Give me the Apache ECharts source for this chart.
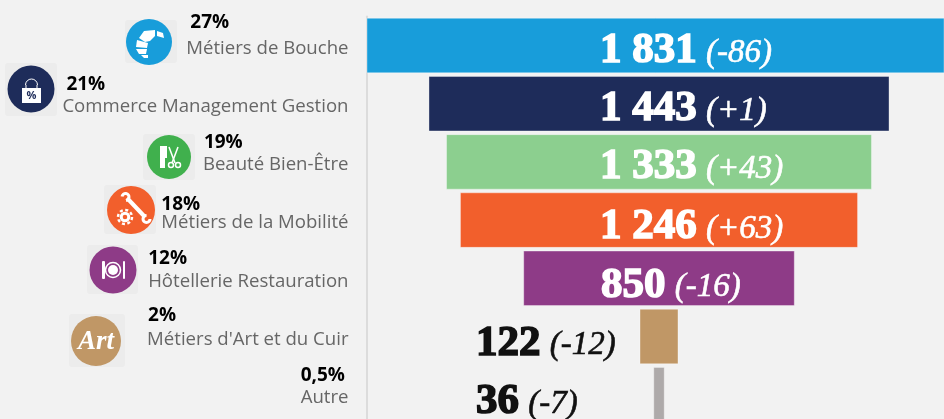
<!DOCTYPE html>
<html><head><meta charset="utf-8">
<style>html,body{margin:0;padding:0;background:#f2f2f2}#c{width:944px;height:419px}</style>
<script src="https://cdn.jsdelivr.net/npm/echarts@6/dist/echarts.min.js"></script>
</head><body><div id="c"></div>
<script>
const categories = ['Métiers de Bouche','Commerce Management Gestion','Beauté Bien-Être','Métiers de la Mobilité','Hôtellerie Restauration',"Métiers d'Art et du Cuir",'Autre'];
const values = [1831,1443,1333,1246,850,122,36];
const changes = ['-86','+1','+43','+63','-16','-12','-7'];
const shares = ['27%','21%','19%','18%','12%','2%','0,5%'];
const colors = ['#189dda','#1e2c5a','#8ccf8f','#f25f2c','#8e3b87','#c09766','#aeaaaa'];

const pxPerUnit = 0.3195, gridLeft = 366.5, gridW = 944 - gridLeft;
const axisMax = gridW / pxPerUnit, centre = 1831;
const toUnits = px => (px - gridLeft) / pxPerUnit;
const shareGap = [26,22,22,19,23,24,22];
const shareInset = [4,4,1,0,0,1,0];
const labelDrop = [5.5,5.5,5,7,7.5,7,7.5];
const rich = {n:{fontFamily:'Open Sans',fontSize:18.6,color:'#666',lineHeight:24,align:'right'}};
shareGap.forEach((g,i)=>{
  const lh = g*2-24;
  rich['p'+i] = {fontFamily:'Open Sans',fontWeight:'bold',fontSize:19,color:'#000',lineHeight:lh,align:'left',padding:[0,0,0,shareInset[i]]};
  rich['e'+i] = {fontSize:4,lineHeight:lh-6};
});
const W = '#fff';
const circ = (cx,cy,r,fill)=>({type:'circle',shape:{cx,cy,r},style:{fill},silent:true});
const sq = (x,y,w,h)=>({type:'rect',shape:{x,y,width:w,height:h,r:3},style:{fill:'#ececec'},silent:true});
const poly = (pts,fill=W)=>({type:'polygon',shape:{points:pts},style:{fill},silent:true});
const rc = (x,y,w,h,fill=W,r=0)=>({type:'rect',shape:{x,y,width:w,height:h,r},style:{fill},silent:true});
const ring = (cx,cy,r,lw,stroke=W)=>({type:'circle',shape:{cx,cy,r},style:{fill:'none',stroke,lineWidth:lw},silent:true});
const seg = (x1,y1,x2,y2,lw,cap='butt',stroke=W)=>({type:'line',shape:{x1,y1,x2,y2},style:{stroke,lineWidth:lw,lineCap:cap},silent:true});
const icons = [
 sq(125,20,52,43), circ(149,42,23,colors[0]),
 poly([[157,31],[163,33],[164,38],[157,36]]), poly([[144,31],[155,30],[155,36],[150,41],[145,42],[139,38]]),
 poly([[137,40],[148,43],[147,48],[136,47]]), poly([[136,49],[147,49],[146,54],[139,54]]), poly([[141,55],[148,55],[148,58],[144,58]]),
 sq(5,63,52,53), circ(31,89,23.5,colors[1]),
 rc(22,88,19,15), {type:'arc',shape:{cx:31.5,cy:85,r:6,startAngle:Math.PI,endAngle:0},style:{fill:'none',stroke:W,lineWidth:1},silent:true},
 rc(25.5,85,1,4), rc(36.5,85,1,4),
 {type:'text',style:{text:'%',x:31.5,y:95.5,align:'center',verticalAlign:'middle',font:'bold 11px "Open Sans"',fill:colors[1]},silent:true},
 sq(143,134,52,46), circ(169,157,22,'#40b04d'),
 rc(160,146,5,22), rc(165,146,2,12), seg(169,147,175,163,1.5),
 seg(178,147,172,163,1.5), ring(171,165,2.5,1.5), ring(178,165,2.5,1.5),
 sq(104,185,52,49), circ(131,210,24,'#f25f2c'),
 seg(127,198,145,217,4),
 {type:'arc',shape:{cx:125.5,cy:197,r:3.5,startAngle:-Math.PI*0.95,endAngle:Math.PI*0.45},style:{fill:'none',stroke:W,lineWidth:3},silent:true},
 {type:'arc',shape:{cx:146.5,cy:219,r:3.5,startAngle:0,endAngle:Math.PI*1.5},style:{fill:'none',stroke:W,lineWidth:3},silent:true},
 ring(125,217,3.8,3), {type:'circle',shape:{cx:125,cy:217,r:7},style:{fill:'none',stroke:W,lineWidth:2.5,lineDash:[3,2.5]},silent:true},
 sq(87,245,51,49), circ(113,270,23.5,colors[4]),
 ring(113,270,7.5,1.5), circ(113,270,5,W), rc(102,261,3,18,W,1), rc(123,261,2,18,W,1),
 sq(69,314,56,53), circ(96,341,25,colors[5]),
 {type:'text',style:{text:'Art',x:96,y:342,align:'center',verticalAlign:'middle',font:'italic bold 27px "Liberation Serif"',fill:W},silent:true}
];
const labelX = values.map((v,i)=> i<4 ? 600 : i===4 ? 601 : 476);
const chart = echarts.init(document.getElementById('c'),null,{renderer:'canvas'});
chart.setOption({
  backgroundColor:'#f2f2f2', animation:false,
  grid:{left:gridLeft,top:16.4,width:gridW,height:407.4,containLabel:false,outerBoundsMode:'none'},
  xAxis:{type:'value',min:0,max:axisMax,show:false},
  yAxis:{type:'category',inverse:true,data:categories,
    axisLine:{show:true,lineStyle:{color:'#dcdcdc',width:2}},axisTick:{show:false},
    axisLabel:{margin:18,align:'right',verticalAlign:'middle',interval:0,showMinLabel:true,showMaxLabel:true,hideOverlap:false,
      formatter:(v,i)=>`{p${i}|${shares[i]}}\n{n|${v}}\n{e${i}| }`,rich}},
  series:[
    {type:'bar',stack:'f',barWidth:55.5,silent:true,itemStyle:{color:'transparent'},data:values.map(v=>(centre-v)/2)},
    {type:'bar',stack:'f',barWidth:55.5,silent:true,
      data:values.map((v,i)=>({value:v,itemStyle:{color:colors[i],borderColor:'rgba(255,255,255,.35)',borderWidth:1}}))},
    {type:'scatter',symbolSize:0,silent:true,itemStyle:{opacity:1},clip:false,
      data:values.map((v,i)=>{
        const c = i<5 ? '#fff' : '#111';
        const s = v>=1000 ? String(v).replace(/(\d)(\d{3})$/,'$1 $2') : String(v);
        return {value:[toUnits(labelX[i]),i],label:{show:true,position:'right',distance:0,opacity:1,offset:[0,labelDrop[i]],
          formatter:`{a|${s}} {b|(${changes[i]})}`,
          rich:{a:{fontFamily:'Liberation Serif',fontWeight:'bold',fontSize:43,color:c,textBorderColor:c,textBorderWidth:1.6},
                b:{fontFamily:'Liberation Serif',fontStyle:'italic',fontSize:33,color:c,textBorderColor:c,textBorderWidth:0.6,padding:[4,0,0,6]}}}};
      })}
  ],
  graphic:{elements:icons}
});
</script></body></html>
